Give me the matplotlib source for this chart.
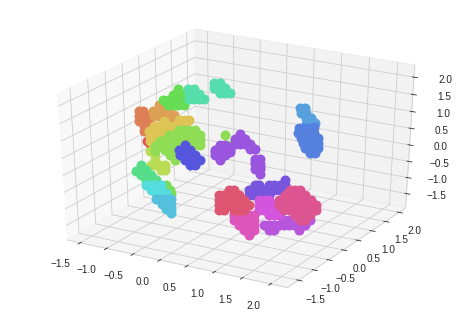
import matplotlib
matplotlib.use("Agg")
import matplotlib.pyplot as plt
import seaborn as sns

sns.set_style("whitegrid")
plt.rcParams['font.family'] = ['Liberation Sans', 'DejaVu Sans']

ticks = [-1.5, -1, -0.5, 0, 0.5, 1, 1.5, 2]

# clusters, back to front. depth (y) can't be read off the picture, so it is one estimate per cluster
red_x = [-1.34, -1.28]
red_z = [0.19, 0.12]
terra_x = [-1.47, -1.38, -1.47, -1.38, -1.28, -1.47, -1.38, -1.28, -1.38, -1.28, -1.38, -1.28]
terra_z = [1.04, 1.07, 0.89, 0.92, 0.95, 0.74, 0.77, 0.80, 0.62, 0.65, 0.48, 0.51]
orange_x = [-1.09, -1.00, -1.19, -1.09, -1.00, -0.91, -1.19, -1.09, -1.00, -0.91, -0.81, -0.81]
orange_z = [1.31, 1.34, 1.13, 1.16, 1.19, 1.22, 0.98, 1.01, 1.04, 1.07, 1.10, 0.95]
green_x = [-0.72, -0.81, -0.72, -0.62, -0.91, -1.00, -0.81, -0.72, -0.62, -0.91, -0.81, -0.72, -0.62]
green_z = [1.88, 1.70, 1.73, 1.77, 1.52, 1.49, 1.55, 1.58, 1.62, 1.37, 1.40, 1.43, 1.47]
teal_x = [-0.53, -0.43, -0.53, -0.43, -0.34, -0.53, -0.43, -0.34, -0.25, -0.38]
teal_z = [1.95, 1.98, 1.80, 1.83, 1.86, 1.65, 1.68, 1.71, 1.74, 1.78]
teal2_x = [0.04, -0.06, -0.06, 0.04, 0.13, 0.04, 0.13, 0.22]
teal2_z = [2.28, 2.25, 2.10, 2.13, 2.16, 1.98, 2.01, 2.04]
lime_x = [-1.28, -1.19, -1.19, -1.09, -1.28, -1.19, -1.09, -1.00, -1.00]
lime_z = [-0.09, -0.21, -0.36, -0.48, -0.54, -0.51, -0.63, -0.60, -0.45]
yellow_x = [-1.28, -1.28, -1.28, -1.19, -1.19, -1.19, -1.19, -1.09, -1.09, -1.09, -1.00, -1.00, -1.00,
            -0.91, -0.91, -0.81, -0.72, -0.72, -0.62, -0.62, -0.53]
yellow_z = [0.51, 0.36, 0.21, 0.68, 0.54, 0.39, 0.24, 0.71, 0.57, 0.42, 0.89, 0.74, 0.60,
            0.77, 0.63, 0.80, 0.98, 0.83, 1.02, 0.87, 1.05]
leaf_x = [-1.19, -1.19, -1.09, -1.09, -1.00, -1.00, -1.00, -0.91, -0.91, -0.91, -0.91, -0.91,
          -0.81, -0.81, -0.81, -0.81, -0.81, -0.72, -0.72, -0.72, -0.72, -0.62, -0.62,
          -0.53, -0.53, -0.43, -0.43, -0.34, -0.34, -0.34, -0.43, -0.43, 0.13, 0.22,
          -0.53, -0.62, -0.91, -0.81, -0.72, -0.72]
leaf_z = [0.09, -0.06, 0.27, 0.12, 0.30, 0.15, 0.00, 0.48, 0.33, 0.18, 0.03, -0.12,
          0.51, 0.36, 0.21, 0.06, -0.24, 0.69, 0.54, 0.39, 0.24, 0.72, 0.57,
          0.75, 0.60, 0.79, 0.64, 0.67, 0.52, 0.37, 0.49, 0.34, 0.79, 0.52,
          0.30, 0.40, -0.05, -0.10, 0.10, -0.05]
blue_x = [-0.62, -0.72, -0.72, -0.62, -0.62, -0.62, -0.53, -0.53, -0.53, -0.53, -0.43, -0.43, -0.43, -0.34]
blue_z = [0.28, 0.09, -0.06, 0.13, -0.02, -0.17, 0.16, 0.01, -0.14, -0.29, 0.04, -0.11, -0.26, -0.08]
purple_x = [-0.06, -0.06, 0.04, 0.04, 0.04, 0.04, 0.13, 0.13, 0.13, 0.22,
            0.31, 0.40, 0.40, 0.31, 0.40, 0.49, 0.49, 0.58, 0.58, 0.67,
            0.67, 0.76, 0.67, 0.76, 0.76, 0.76, 0.67,
            0.04, 0.13, -0.06, 0.13, 0.22, 0.22, 0.67, 0.76, 0.58]
purple_z = [0.31, 0.16, 0.49, 0.34, 0.19, 0.04, 0.52, 0.37, 0.22, 0.40,
            0.73, 0.91, 0.76, 0.58, 0.61, 0.79, 0.64, 0.67, 0.52, 0.55,
            0.10, 0.28, -0.05, 0.13, -0.02, -0.17, 0.25,
            0.42, 0.45, 0.24, 0.30, 0.32, 0.48, 0.18, 0.05, 0.60]
mint_x = [-1.47, -1.57, -1.47, -1.38, -1.47, -1.38, -1.28, -1.38, -1.28, -1.19, -1.28]
mint_z = [-0.60, -0.79, -0.75, -0.72, -0.90, -0.87, -0.84, -1.02, -0.99, -0.96, -1.14]
spring_x = [-1.00, -0.91, -0.91]
spring_z = [-1.05, -1.17, -1.31]
cyan_x = [-1.38, -1.28, -1.19, -1.19, -1.09, -1.28, -1.19, -1.09, -1.09, -1.00]
cyan_z = [-1.17, -1.29, -1.11, -1.26, -1.23, -1.14, -1.40, -1.08, -1.38, -1.30]
sky_x = [-1.19, -1.09, -1.00, -0.91, -1.09, -1.00, -0.91, -1.00, -0.91, -0.91]
sky_z = [-1.55, -1.52, -1.49, -1.46, -1.67, -1.64, -1.61, -1.79, -1.76, -1.91]
steel_x = [0.93, 1.02, 0.95, 1.04, 1.04, 1.13, 1.04, 1.13, 1.21]
steel_z = [1.33, 1.36, 1.18, 1.21, 1.06, 1.09, 0.90, 0.93, 0.96]
cobalt_x = [0.91, 1.00, 1.10, 1.19, 0.91, 1.00, 1.10, 1.19, 1.26, 0.95, 1.04, 1.13, 1.22,
            1.00, 1.10, 1.19, 1.04, 1.13, 1.22, 1.28, 1.13, 1.22, 1.26, 1.00]
cobalt_z = [0.74, 0.77, 0.80, 0.83, 0.59, 0.62, 0.65, 0.68, 0.54, 0.44, 0.47, 0.50, 0.53,
            0.31, 0.34, 0.37, 0.17, 0.20, 0.23, 0.25, 0.04, 0.07, 0.40, 0.45]
orchid_x = [1.40, 1.49, 1.58, 1.67, 1.76, 1.85, 1.94, 2.03, 2.12, 2.21, 1.49, 1.58, 1.76, 1.85, 2.03]
orchid_z = [-0.90, -0.87, -0.84, -0.81, -0.63, -0.60, -0.72, -0.69, -0.66, -0.48, -1.02, -0.99, -0.78, -0.75, -0.84]
violet_x = [1.14, 1.23, 1.23, 1.31, 1.31, 1.40, 1.14, 1.23, 1.31, 1.40, 1.49,
            1.58, 1.67, 1.76, 1.58, 1.67, 1.76, 1.49]
violet_z = [0.04, 0.21, 0.07, 0.24, 0.10, 0.13, -0.11, -0.08, -0.05, -0.02, 0.01,
            0.33, 0.36, 0.54, 0.19, 0.22, 0.39, 0.30]
magenta_x = [1.31, 1.40, 1.49, 1.31, 1.40, 1.49, 1.58, 1.67, 1.31, 1.40, 1.49, 1.58, 1.67, 1.49, 1.58, 1.67]
magenta_z = [-0.20, -0.17, -0.14, -0.34, -0.31, -0.28, -0.25, -0.22, -0.49, -0.46, -0.43, -0.40, -0.37, -0.58, -0.55, -0.52]
rose_x = [0.87, 0.96, 1.05, 1.14, 1.23, 0.87, 0.96, 1.05, 1.14, 1.23, 0.96, 1.05, 1.14, 1.23, 1.05, 1.14, 1.14, 1.23]
rose_z = [-0.79, -0.76, -0.73, -0.70, -0.67, -0.93, -0.90, -0.87, -0.84, -0.81, -1.05, -1.02, -0.99, -0.96, -1.17, -1.14, -1.29, -1.11]
crimson_x = [0.60, 0.69, 0.78, 0.87, 0.78, 0.87, 0.96, 0.60, 0.69, 0.78, 0.87, 0.96, 1.05,
             0.60, 0.69, 0.78, 0.87, 0.96, 1.05, 1.14, 0.69, 0.87, 0.96, 1.05, 0.60]
crimson_z = [-0.28, -0.255, -0.08, -0.05, -0.23, -0.20, -0.17, -0.43, -0.40, -0.38, -0.35, -0.32, -0.29,
             -0.57, -0.55, -0.52, -0.49, -0.46, -0.43, -0.40, -0.69, -0.64, -0.61, -0.58, -0.73]
pink_x = [1.85, 1.94, 2.03, 1.76, 1.85, 1.94, 2.03, 2.12, 1.67, 1.76, 1.85, 1.94, 2.03, 2.12, 2.21,
          1.67, 1.76, 1.85, 1.94, 2.03, 2.12, 2.21, 2.30, 1.76, 1.85, 1.94, 2.03, 2.12, 2.21, 2.30,
          1.94, 2.03, 2.12, 2.21, 2.03, 2.12]
pink_z = [0.28, 0.31, 0.34, 0.10, 0.13, 0.16, 0.19, 0.22, -0.08, -0.05, -0.02, 0.01, 0.04, 0.07, 0.10,
          -0.22, -0.19, -0.16, -0.13, -0.10, -0.07, -0.04, -0.01, -0.34, -0.31, -0.28, -0.25, -0.22, -0.19, -0.16,
          -0.43, -0.40, -0.37, -0.34, -0.54, -0.51]

clusters = [
    (red_x, red_z, 0, '#dd5555'),
    (terra_x, terra_z, 0, '#dd8055'),
    (orange_x, orange_z, 0, '#dda055'),
    (green_x, green_z, 0, '#66dd55'),
    (teal_x, teal_z, 0, '#55ddaa'),
    (teal2_x, teal2_z, 0, '#55ddb0'),
    (lime_x, lime_z, 0, '#b8dd55'),
    (yellow_x, yellow_z, 0, '#ddc455'),
    (leaf_x, leaf_z, 0, '#8fdd55'),
    (blue_x, blue_z, 0, '#5555dd'),
    (purple_x, purple_z, 0, '#9955dd'),
    (mint_x, mint_z, 0, '#55dd88'),
    (spring_x, spring_z, 0, '#77dd55'),
    (cyan_x, cyan_z, 0, '#55dddd'),
    (sky_x, sky_z, 0, '#55c0dd'),
    (steel_x, steel_z, 1, '#55a0dd'),
    (cobalt_x, cobalt_z, 1, '#5580dd'),
    (orchid_x, orchid_z, -1, '#b855dd'),
    (violet_x, violet_z, -1, '#7755dd'),
    (magenta_x, magenta_z, -1, '#d355dd'),
    (rose_x, rose_z, -1, '#dd55bb'),
    (crimson_x, crimson_z, -1, '#dd5570'),
    (pink_x, pink_z, -1, '#dd5590'),
]

fig = plt.figure(figsize=(460/72, 313/72), dpi=72)
ax = fig.add_axes([0.0426, 0.05, 0.93, 0.896], projection='3d', computed_zorder=False)
ax.apply_aspect = lambda position=None: None
ax.set_box_aspect((1, 1, 1), zoom=1.0)

for xs, zs, depth, col in clusters:
    ax.scatter(xs, [depth]*len(xs), zs, c=col, s=100, linewidths=0, depthshade=False)

ax.set_xlim(-1.75, 2.3)
ax.set_ylim(-1.85, 2.25)
ax.set_zlim(-1.95, 2.35)
ax.set_xticks(ticks)
ax.set_yticks(ticks)
ax.set_zticks(ticks)
ax.tick_params(labelsize=10, pad=6)
ax.tick_params(axis='z', pad=9)
plt.setp(ax.xaxis.get_ticklabels(), ha='right')
fig.savefig("out.png", dpi=72)
